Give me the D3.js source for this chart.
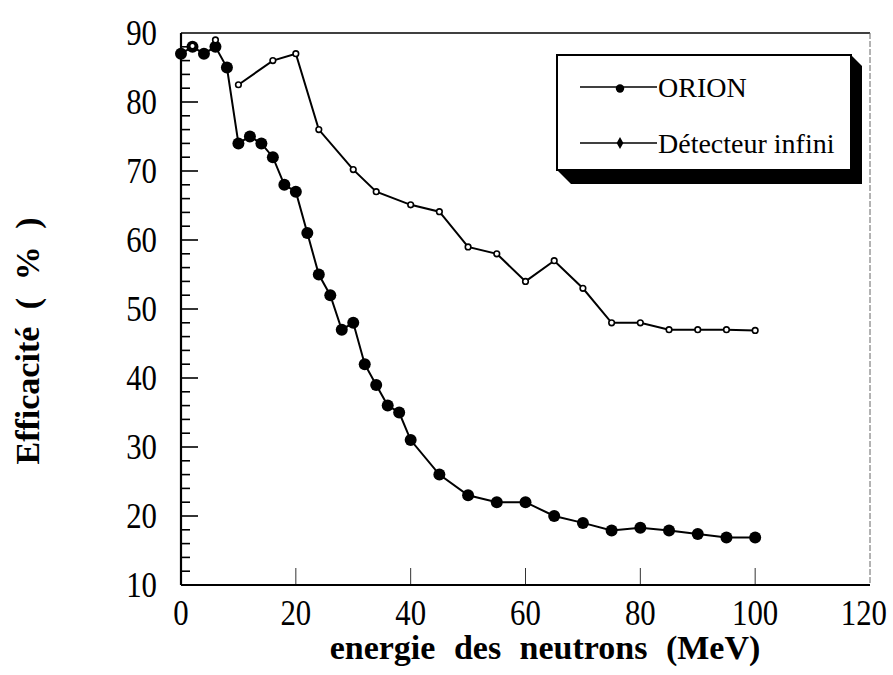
<!DOCTYPE html>
<html>
<head>
<meta charset="utf-8">
<script src="https://cdn.jsdelivr.net/npm/d3@7"></script>
<style>
  html, body { margin: 0; padding: 0; background: #fff; }
  svg { display: block; }
  text { font-family: "Liberation Serif", "Times New Roman", serif; fill: #000; }
</style>
</head>
<body>
<svg id="chart" width="893" height="675"></svg>
<script>
// Neutron energy (MeV) and detection efficiency (%) for ORION
const energyOrion = [0, 2, 4, 6, 8, 10, 12, 14, 16, 18, 20, 22, 24, 26, 28, 30, 32, 34, 36, 38, 40,
                     45, 50, 55, 60, 65, 70, 75, 80, 85, 90, 95, 100];
const effOrion = [87, 88, 87, 88, 85, 74, 75, 74, 72, 68, 67, 61, 55, 52, 47, 48, 42, 39, 36, 35, 31,
                  26, 23, 22, 22, 20, 19, 17.9, 18.3, 17.9, 17.4, 16.9, 16.9];

// Infinite detector (null = no measurement, line is broken there)
const energyInf = [2, 4, 6, 8, 10, 16, 20, 24, 30, 34, 40, 45, 50, 55, 60, 65, 70, 75, 80, 85, 90, 95, 100];
const effInf = [88.1, null, 89, null, 82.5, 86, 87, 76, 70.2, 67, 65.1, 64.1, 59, 58, 54, 57, 53, 48, 48, 47, 47, 47, 46.9];

const xTicks = [0, 20, 40, 60, 80, 100, 120];
const yTicks = [10, 20, 30, 40, 50, 60, 70, 80, 90];
const seriesNames = ["ORION", "Détecteur infini"];
const xTitle = "energie des neutrons (MeV)";
const yTitle = "Efficacité ( % )";

const svg = d3.select("#chart");
const x = d3.scaleLinear().domain([0, 120]).range([181, 870]);
const y = d3.scaleLinear().domain([10, 90]).range([585, 33]);

const orion = energyOrion.map((e, i) => ({ e, v: effOrion[i] }));
const inf = energyInf.map((e, i) => ({ e, v: effInf[i] }));

// frame: top and right sides
svg.append("line").attr("x1", x(0)).attr("x2", x(120)).attr("y1", y(90)).attr("y2", y(90))
  .attr("stroke", "#000").attr("stroke-width", 1.6);
svg.append("line").attr("x1", x(120)).attr("x2", x(120)).attr("y1", y(90)).attr("y2", y(10))
  .attr("stroke", "#666").attr("stroke-width", 1).attr("stroke-dasharray", "6 2");

// y ticks: major every 10, minor every 2, drawn inwards
const yMinor = d3.range(12, 90, 2).filter(v => v % 10 !== 0);
svg.append("g").selectAll("line").data(yMinor).join("line")
  .attr("x1", x(0)).attr("x2", x(0) + 9).attr("y1", d => y(d)).attr("y2", d => y(d))
  .attr("stroke", "#000").attr("stroke-width", 1.6);
svg.append("g").selectAll("line").data(yTicks.slice(1, -1)).join("line")
  .attr("x1", x(0)).attr("x2", x(0) + 17).attr("y1", d => y(d)).attr("y2", d => y(d))
  .attr("stroke", "#000").attr("stroke-width", 1.6);

// y tick labels (slightly condensed serif digits)
svg.append("g").selectAll("text").data(yTicks).join("text")
  .attr("transform", d => `translate(${x(0) - 24},${y(d)}) scale(0.88,1)`)
  .attr("text-anchor", "end").attr("dy", "0.34em").attr("font-size", 35)
  .text(d3.format("d"));

// x ticks pointing upward
svg.append("g").selectAll("line").data(xTicks.slice(1, -1)).join("line")
  .attr("x1", d => x(d)).attr("x2", d => x(d)).attr("y1", y(10)).attr("y2", y(10) - 17)
  .attr("stroke", "#333").attr("stroke-width", 1);

// x tick labels; the last one is kept inside the page
svg.append("g").selectAll("text").data(xTicks).join("text")
  .attr("transform", (d, i) => {
    const last = i === xTicks.length - 1;
    return `translate(${x(d) + (last ? 17 : 0)},${y(10) + 15}) scale(0.88,1)`;
  })
  .attr("text-anchor", (d, i) => i === xTicks.length - 1 ? "end" : "middle")
  .attr("dy", "0.71em").attr("font-size", 35)
  .text(d3.format("d"));

// axis lines
svg.append("line").attr("x1", x(0)).attr("x2", x(0)).attr("y1", y(90)).attr("y2", y(10))
  .attr("stroke", "#000").attr("stroke-width", 2.2);
svg.append("line").attr("x1", x(0)).attr("x2", x(120)).attr("y1", y(10)).attr("y2", y(10))
  .attr("stroke", "#000").attr("stroke-width", 2.2);

// axis titles
svg.append("text").attr("x", 545).attr("y", 659)
  .attr("text-anchor", "middle").attr("font-size", 34).attr("font-weight", "bold")
  .attr("word-spacing", 10).text(xTitle);
svg.append("text").attr("transform", `translate(39,341) rotate(-90)`)
  .attr("text-anchor", "middle").attr("font-size", 34).attr("font-weight", "bold")
  .attr("word-spacing", 9).text(yTitle);

// series lines
const line = d3.line().defined(d => d.v != null).x(d => x(d.e)).y(d => y(d.v));
svg.append("path").datum(inf).attr("d", line).attr("fill", "none")
  .attr("stroke", "#000").attr("stroke-width", 2);
svg.append("path").datum(orion).attr("d", line).attr("fill", "none")
  .attr("stroke", "#000").attr("stroke-width", 2);

// markers
svg.append("g").selectAll("circle").data(orion).join("circle")
  .attr("cx", d => x(d.e)).attr("cy", d => y(d.v)).attr("r", 6).attr("fill", "#000");
svg.append("g").selectAll("circle").data(inf.filter(d => d.v != null)).join("circle")
  .attr("cx", d => x(d.e)).attr("cy", d => y(d.v)).attr("r", 2.8)
  .attr("fill", "#fff").attr("stroke", "#000").attr("stroke-width", 1.6);

// legend with bevelled drop shadow
const lg = { x0: 557, y0: 55, x1: 851, y1: 170, dx: 11, dy: 14 };
svg.append("polygon").attr("points", [
  [lg.x1, lg.y0], [lg.x1 + lg.dx, lg.y0 + lg.dx], [lg.x1 + lg.dx, lg.y1 + lg.dy],
  [lg.x0 + lg.dy, lg.y1 + lg.dy], [lg.x0, lg.y1]
].map(p => p.join(",")).join(" ")).attr("fill", "#000");
svg.append("rect").attr("x", lg.x0).attr("y", lg.y0).attr("width", lg.x1 - lg.x0)
  .attr("height", lg.y1 - lg.y0).attr("fill", "#fff").attr("stroke", "#000").attr("stroke-width", 2);

const legendRows = [{ name: seriesNames[0], ly: 87 }, { name: seriesNames[1], ly: 143 }];
legendRows.forEach((r, i) => {
  svg.append("line").attr("x1", 580).attr("x2", 657).attr("y1", r.ly).attr("y2", r.ly)
    .attr("stroke", "#000").attr("stroke-width", 1.6);
  if (i === 0) {
    svg.append("circle").attr("cx", 620).attr("cy", r.ly + 1.5).attr("r", 4.2).attr("fill", "#000");
  } else {
    svg.append("path").attr("d", d3.symbol(d3.symbolDiamond, 40)())
      .attr("transform", `translate(620,${r.ly})`).attr("fill", "#000");
  }
  svg.append("text").attr("x", 658).attr("y", r.ly + 10).attr("font-size", 28).text(r.name);
});
</script>
</body>
</html>
